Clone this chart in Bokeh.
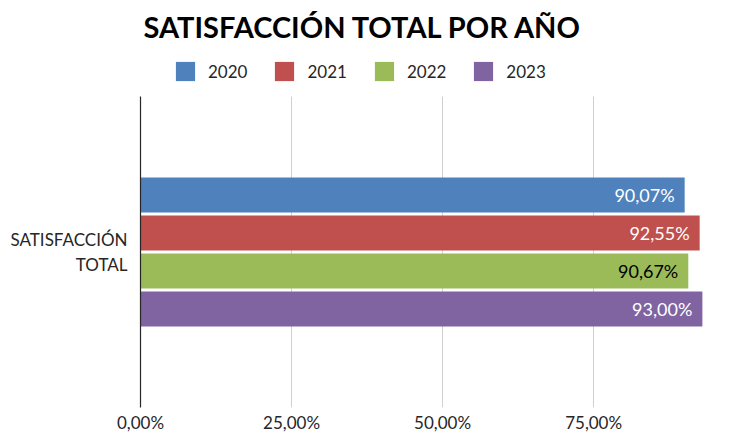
from bokeh.plotting import figure
from bokeh.models import ColumnDataSource, Range1d, FixedTicker, Legend, LegendItem, BoxAnnotation
from bokeh.core.properties import value
from bokeh.embed import file_html
from bokeh.resources import INLINE

# ---- data ----
category = ["SATISFACCIÓN\nTOTAL"]
years = ["2020", "2021", "2022", "2023"]
satisfaction = [90.07, 92.55, 90.67, 93.00]
colors = ["#4F81BD", "#C0504D", "#9BBB59", "#8064A2"]
label_colors = ["#FFFFFF", "#FFFFFF", "#000000", "#FFFFFF"]
x_ticks = [0, 25, 50, 75]

FONT = "Lato"

# layout (pixels)
PLOT_PX = 311      # height of the plotting band
HEAD_PX = 48       # headroom inside the frame for the legend
TOP_PX = 48        # title area above the frame
BOTTOM_PX = 28

y_lo, y_hi = -0.5, 0.5
y_top = y_hi + HEAD_PX / PLOT_PX
pitch = 38 / PLOT_PX
bar_h = 35 / PLOT_PX
n = len(years)
ys = [0 + ((n - 1) / 2 - i) * pitch for i in range(n)]

def fmt(v):
    return ("%.2f%%" % v).replace(".", ",")

src = ColumnDataSource(dict(
    year=years, value=satisfaction, color=colors, y=ys,
    label=[fmt(v) for v in satisfaction], label_color=label_colors,
))

p = figure(width=733, height=435, output_backend="svg", toolbar_location=None,
           x_range=Range1d(0, 96), y_range=Range1d(y_lo, y_top),
           min_border_left=140, min_border_right=13, min_border_top=TOP_PX,
           min_border_bottom=BOTTOM_PX)
p.outline_line_color = None
p.background_fill_color = "white"

r = p.hbar(y="y", left=0, right="value", height=bar_h, source=src,
           fill_color="color", line_color=None)

p.text(x="value", y="y", text="label", source=src, x_offset=-10,
       text_align="right", text_baseline="middle", text_color="label_color",
       text_font=value(FONT), text_font_size="18px")

# x axis
xa = p.xaxis[0]
xa.ticker = FixedTicker(ticks=x_ticks)
xa.major_label_overrides = {t: fmt(t) for t in x_ticks}
xa.axis_line_color = None
xa.major_tick_line_color = None
xa.minor_tick_line_color = None
xa.major_tick_out = 0
xa.major_tick_in = 0
xa.minor_tick_out = 0
xa.major_label_text_font = FONT
xa.major_label_text_font_size = "17px"
xa.major_label_text_line_height = 0.8
xa.major_label_text_color = "#262626"
xa.major_label_standoff = 4

# y axis
ya = p.yaxis[0]
ya.ticker = FixedTicker(ticks=[0])
ya.major_label_overrides = {0: category[0]}
ya.bounds = (y_lo, y_hi)
ya.axis_line_color = "#262626"
ya.axis_line_width = 1.2
ya.major_tick_line_color = None
ya.minor_tick_line_color = None
ya.major_label_text_font = FONT
ya.major_label_text_font_size = "17px"
ya.major_label_text_color = "#262626"
ya.major_label_standoff = 7

p.xgrid.ticker = FixedTicker(ticks=x_ticks)
p.xgrid.grid_line_color = "#D0D0D0"
p.ygrid.grid_line_color = None

# hide grid in the legend headroom
p.add_layout(BoxAnnotation(bottom=y_hi, fill_color="white", fill_alpha=1.0,
                           line_color=None, level="underlay"))

# legend
items = [LegendItem(label=yr, renderers=[r], index=i) for i, yr in enumerate(years)]
legend = Legend(items=items, orientation="horizontal", location=(33, PLOT_PX + 13),
                glyph_width=24, glyph_height=24, label_standoff=11, spacing=25,
                padding=0, margin=0, border_line_color=None, background_fill_alpha=0,
                label_text_font=FONT, label_text_font_size="17px", label_text_color="#262626")
p.add_layout(legend, "center")

# title
p.title.text = "SATISFACCIÓN TOTAL POR AÑO"
p.title.align = "left"
p.title.offset = 3
p.title.text_font = FONT
p.title.text_font_size = "29px"
p.title.text_font_style = "bold"
p.title.text_color = "#000000"

open("out.html", "w").write(file_html(p, INLINE))
